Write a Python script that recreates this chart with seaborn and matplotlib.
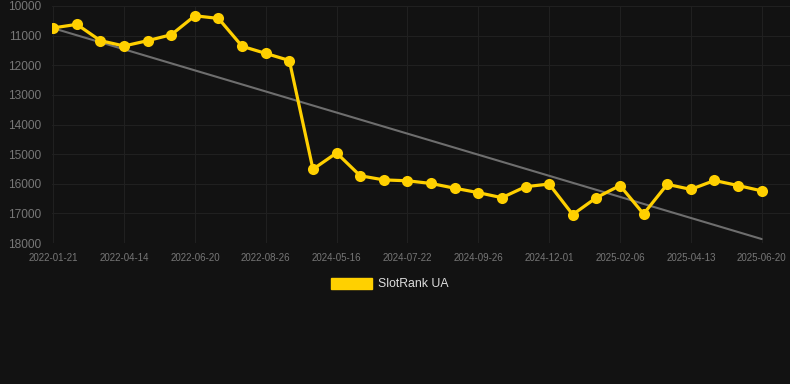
import numpy as np
import pandas as pd
import matplotlib
matplotlib.use("Agg")
import matplotlib.pyplot as plt
import seaborn as sns
from matplotlib.patches import Patch

# rank values, one per snapshot (31 snapshots)
ranks = [10740, 10620, 11170, 11350, 11170, 10970, 10330, 10420, 11360, 11600,
         11840, 15510, 14960, 15730, 15870, 15900, 15990, 16150, 16300, 16470,
         16100, 16010, 17040, 16470, 16060, 17020, 16020, 16190, 15890, 16060,
         16240]
tick_labels = ["2022-01-21", "2022-04-14", "2022-06-20", "2022-08-26",
               "2024-05-16", "2024-07-22", "2024-09-26", "2024-12-01",
               "2025-02-06", "2025-04-13", "2025-06-20"]
y_ticks = [10000, 11000, 12000, 13000, 14000, 15000, 16000, 17000, 18000]

BG = "#121212"
GOLD = "#FFD000"

df = pd.DataFrame({"idx": np.arange(len(ranks)), "rank": ranks})
slope, icept = np.polyfit(df.idx, df["rank"], 1)
df["trend"] = icept + slope * df.idx

sns.set_theme(style="dark")
plt.rcParams["font.family"] = ["Liberation Sans", "DejaVu Sans"]

fig = plt.figure(figsize=(7.9, 3.84), dpi=100, facecolor=BG)
ax = fig.add_axes([52 / 790, 1 - 243 / 384, 1 - 52 / 790, 237 / 384])
ax.set_facecolor(BG)

sns.lineplot(data=df, x="idx", y="trend", ax=ax, color="#6e6e6e", lw=1.5, zorder=2)
sns.lineplot(data=df, x="idx", y="rank", ax=ax, color=GOLD, lw=2.3,
             marker="o", markersize=8, markeredgewidth=0, zorder=3)

ax.set_xlim(-0.05, 31.2)
ax.set_ylim(18000, 10000)
ax.set_yticks(y_ticks)
ax.set_yticklabels([str(v) for v in y_ticks])
ax.set_xticks(np.arange(0, len(ranks), 3))
ax.set_xticklabels(tick_labels)
ax.grid(True, color="#202020", lw=0.8)
ax.set_axisbelow(True)
for s in ax.spines.values():
    s.set_visible(False)
ax.tick_params(axis="y", colors="#777777", labelsize=8.6, length=0, pad=8)
ax.tick_params(axis="x", colors="#777777", labelsize=7, length=0, pad=7)
ax.set_xlabel("")
ax.set_ylabel("")

fig.legend(handles=[Patch(facecolor=GOLD, edgecolor=GOLD, label="SlotRank UA")],
           loc="center", bbox_to_anchor=(390 / 790, 1 - 284 / 384), frameon=False,
           labelcolor="#dddddd", fontsize=8.8, handlelength=3.3, handleheight=1.0,
           handletextpad=0.55)

fig.savefig("out.png", facecolor=BG)
